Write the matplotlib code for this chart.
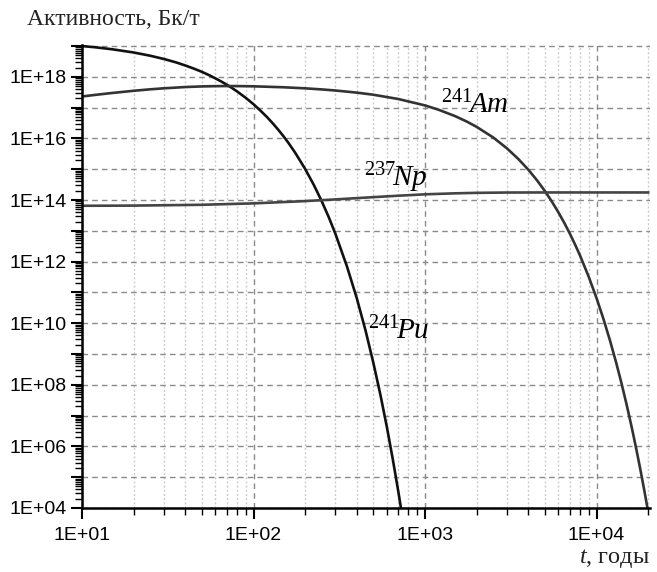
import numpy as np
import matplotlib
matplotlib.use("Agg")
import matplotlib.pyplot as plt
from matplotlib.ticker import LogLocator, FuncFormatter, NullFormatter

plt.rcParams['font.family'] = ['Liberation Sans', 'DejaVu Sans']
plt.rcParams['mathtext.fontset'] = 'custom'
plt.rcParams['mathtext.rm'] = 'Liberation Serif'
plt.rcParams['mathtext.it'] = 'Liberation Serif:italic'

# Pu-241
pu_t = [10, 12, 15, 20, 25, 30, 35, 40, 45, 50, 55, 60, 65, 70, 75, 80, 90,
        100, 110, 120, 130, 140, 150, 160, 175, 200, 225, 250, 275, 300, 350,
        400, 450, 500, 550, 600, 650, 700, 724]
pu_a = [1.0e19, 9.08e18, 7.85e18, 6.17e18, 4.84e18, 3.80e18, 2.99e18, 2.34e18,
        1.84e18, 1.45e18, 1.14e18, 8.9e17, 7.0e17, 5.5e17, 4.32e17, 3.39e17,
        2.09e17, 1.29e17, 7.9e16, 4.9e16, 3.02e16, 1.86e16, 1.15e16, 7.1e15,
        3.43e15, 1.02e15, 3.05e14, 9.1e13, 2.72e13, 8.1e12, 7.2e11, 6.5e10,
        5.8e9, 5.1e8, 4.6e7, 4.1e6, 3.6e5, 3.2e4, 1.0e4]

# Am-241
am_t = [10, 12, 15, 20, 25, 30, 40, 50, 60, 70, 80, 100, 150, 200, 250, 300,
        400, 500, 700, 1000, 1200, 1500, 1750, 2000, 2500, 3000, 3500, 4000,
        4500, 5000, 5500, 6000, 6500, 7000, 7500, 8000, 9000, 10000, 11000,
        12000, 13000, 14000, 15000, 16000, 17000, 18000, 19000, 19500, 19800]
am_a = [2.30e17, 2.60e17, 2.99e17, 3.52e17, 3.93e17, 4.24e17, 4.66e17,
        4.88e17, 4.98e17, 5.02e17, 5.01e17, 4.92e17, 4.58e17, 4.23e17,
        3.90e17, 3.60e17, 3.07e17, 2.62e17, 1.90e17, 1.18e17, 8.53e16,
        5.28e16, 3.54e16, 2.37e16, 1.07e16, 4.79e15, 2.15e15, 9.68e14,
        4.35e14, 1.95e14, 8.77e13, 3.94e13, 1.77e13, 7.96e12, 3.57e12,
        1.61e12, 3.24e11, 6.55e10, 1.32e10, 2.66e9, 5.38e8, 1.09e8, 2.19e7,
        4.44e6, 8.95e5, 1.81e5, 3.65e4, 1.64e4, 1.02e4]

# Np-237
np_t = [10, 20, 50, 100, 200, 300, 500, 700, 1000, 1500, 2000, 3000, 5000,
        10000, 20000]
np_a = [6.5e13, 6.59e13, 7.0e13, 7.78e13, 9.23e13, 1.046e14, 1.24e14,
        1.38e14, 1.53e14, 1.65e14, 1.71e14, 1.75e14, 1.76e14, 1.76e14, 1.76e14]

fig = plt.figure(figsize=(6.57, 5.72), dpi=100)
ax = fig.add_axes([82/657, 1-508/572, (650-82)/657, (508-45)/572])

ax.plot(pu_t, pu_a, color='#111111', lw=1.9)
ax.plot(am_t, am_a, color='#333333', lw=1.9)
ax.plot(np_t, np_a, color='#444444', lw=1.9)

ax.set_xscale('log')
ax.set_yscale('log')
ax.set_xlim(10, 2.05e4)
ax.set_ylim(1e4, 1.08e19)

def fmt(v, pos):
    e = int(round(np.log10(v)))
    if e % 2:
        return ''
    return '1E+%02d' % e

ax.xaxis.set_major_locator(LogLocator(base=10, numticks=20))
ax.xaxis.set_minor_locator(LogLocator(base=10, subs=np.arange(2, 10), numticks=100))
ax.yaxis.set_major_locator(LogLocator(base=10, numticks=30))
ax.yaxis.set_minor_locator(LogLocator(base=10, subs=np.arange(2, 10), numticks=200))
ax.xaxis.set_major_formatter(FuncFormatter(lambda v, p: '1E+%02d' % int(round(np.log10(v)))))
ax.yaxis.set_major_formatter(FuncFormatter(fmt))
ax.xaxis.set_minor_formatter(NullFormatter())
ax.yaxis.set_minor_formatter(NullFormatter())

ax.tick_params(which='major', direction='out', length=8, width=1.5, labelsize=14, pad=3)
ax.tick_params(which='minor', direction='out', length=5, width=1)
ax.tick_params(axis='x', which='major', pad=6)

ax.grid(which='major', axis='both', color='#8a8a8a', ls=(0, (4, 3)), lw=1)
ax.grid(which='minor', axis='x', color='#cccccc', ls=(0, (1.5, 1.5)), lw=1)

for s in ['top', 'right']:
    ax.spines[s].set_visible(False)
for s in ['left', 'bottom']:
    ax.spines[s].set_linewidth(1.8)

ax.text(1233, 6.6e16, r'$^{\mathrm{241}}\!Am$', fontsize=21, va='baseline', ha='left')
ax.text(440, 2.8e14, r'$^{\mathrm{237}}\!Np$', fontsize=21, va='baseline', ha='left')
ax.text(465, 2.9e9, r'$^{\mathrm{241}}\!Pu$', fontsize=21, va='baseline', ha='left')

fig.text(27/657, 1-25/572, 'Активность, Бк/т', family=['Liberation Serif', 'DejaVu Serif'],
         fontsize=17, color='#222222', va='baseline', ha='left')
fig.text(650/657, 1-563/572, r'$t$, годы', family=['Liberation Serif', 'DejaVu Serif'],
         fontsize=17.5, color='#222222', va='baseline', ha='right')

fig.savefig('out.png', dpi=100)
